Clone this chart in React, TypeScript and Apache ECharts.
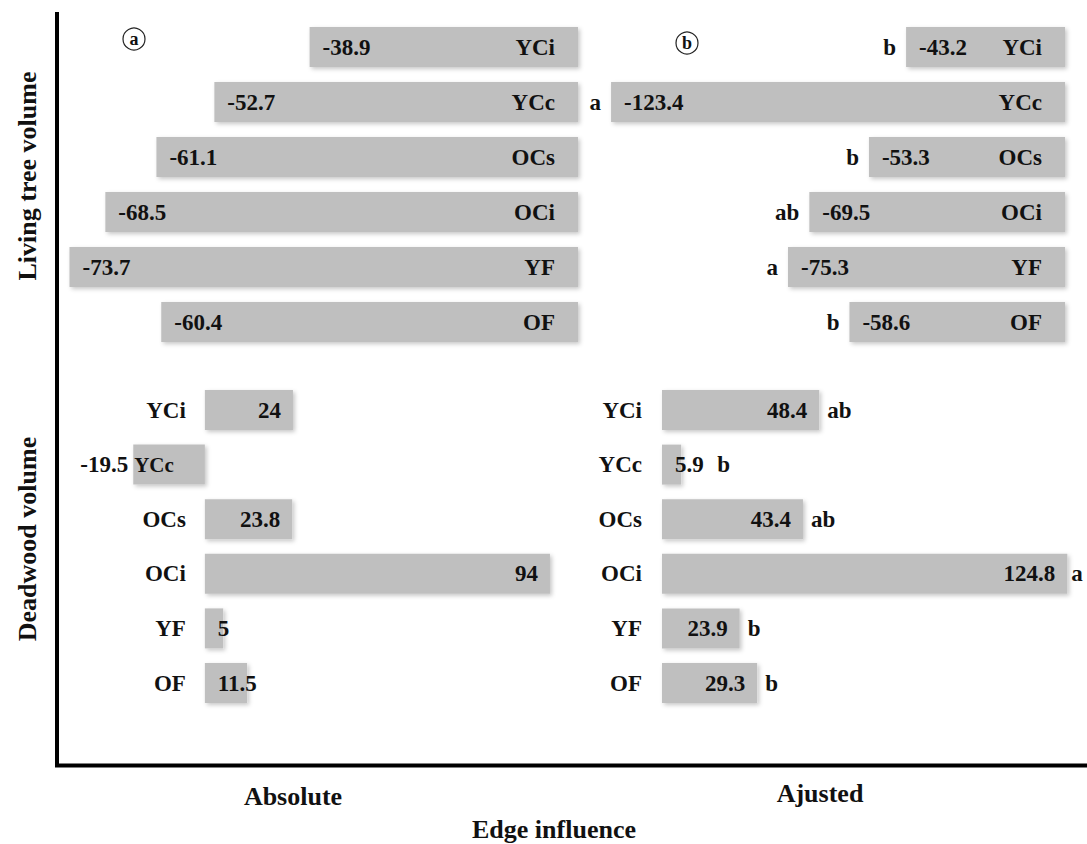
import React, { useEffect, useRef } from 'react';
import * as echarts from 'echarts';

const categories = ['YCi', 'YCc', 'OCs', 'OCi', 'YF', 'OF'];
const livingAbsolute = [-38.9, -52.7, -61.1, -68.5, -73.7, -60.4];
const livingAdjusted = [-43.2, -123.4, -53.3, -69.5, -75.3, -58.6];
const livingAdjustedLetters = ['b', 'a', 'b', 'ab', 'a', 'b'];
const deadAbsolute = [24, -19.5, 23.8, 94, 5, 11.5];
const deadAdjusted = [48.4, 5.9, 43.4, 124.8, 23.9, 29.3];
const deadAdjustedLetters = ['ab', 'b', 'ab', 'a', 'b', 'b'];
const panelTitles = ['Absolute', 'Ajusted'];
const rowTitles = ['Living tree volume', 'Deadwood volume'];
const axisTitle = 'Edge influence';
const panelTags = ['a', 'b'];

const FONT = '"Liberation Serif", "Times New Roman", serif';
const INK = '#111111';
const BAR = '#bfbfbf';

const lbl = { fontFamily: FONT, fontWeight: 'bold' as const, fontSize: 23, color: INK };

const barStyle = {
  color: BAR,
  shadowColor: 'rgba(0,0,0,0.22)',
  shadowBlur: 4,
  shadowOffsetX: 2,
  shadowOffsetY: 2,
};
const ghostStyle = { color: 'rgba(0,0,0,0)' };

function deadValueLabel(v: number) {
  if (v < 0) return { position: 'left', distance: 5 };
  if (v < 15) return { position: 'insideLeft', distance: 13 };
  return { position: 'insideRight', distance: 12 };
}

export default function App() {
  const ref = useRef<HTMLDivElement>(null);
  useEffect(() => {
    if (!ref.current) return;
    const chart = echarts.init(ref.current, undefined, { renderer: 'svg' });
    const grids = [
      { left: 26, top: 19.5, width: 552, height: 330 },
      { left: 550, top: 19.5, width: 515, height: 330 },
      { left: 58, top: 382.7, width: 514, height: 327.6 },
      { left: 662, top: 382.7, width: 406, height: 327.6 },
    ].map((g) => ({ ...g, outerBoundsMode: 'none', containLabel: false }));
    const xRanges = [
      [-80, 0],
      [-140, 0],
      [-40, 100],
      [0, 125],
    ];
    const xAxis = xRanges.map((r, i) => ({
      type: 'value',
      gridIndex: i,
      min: r[0],
      max: r[1],
      show: false,
    }));
    const baseY = {
      type: 'category',
      data: categories,
      inverse: true,
      axisTick: { show: false },
      splitLine: { show: false },
      z: 10,
    };
    const yAxis = [
      { ...baseY, gridIndex: 0, position: 'right', axisLine: { show: false, onZero: false }, axisLabel: { ...lbl, inside: true, margin: 23 } },
      { ...baseY, gridIndex: 1, position: 'right', axisLine: { show: false, onZero: false }, axisLabel: { ...lbl, inside: true, margin: 23 } },
      {
        ...baseY,
        gridIndex: 2,
        position: 'left',
        // move the category axis from the grid's left edge onto the value 0
        offset: -(40 / 140) * 514,
        axisLine: { show: false, onZero: false },
        axisLabel: {
          ...lbl,
          margin: 19,
          formatter: (v: string, i: number) => (deadAbsolute[i] < 0 ? `{n|${v}}` : `{p|${v}}`),
          rich: {
            n: { ...lbl, fontSize: 21, padding: [0, 12, 0, 0] },
            p: { ...lbl },
          },
        },
      },
      { ...baseY, gridIndex: 3, position: 'left', axisLine: { show: false, onZero: false }, axisLabel: { ...lbl, margin: 20 } },
    ];
    const series: any[] = [
      {
        type: 'bar', xAxisIndex: 0, yAxisIndex: 0, barWidth: 40,
        data: livingAbsolute, itemStyle: barStyle,
        label: { show: true, position: 'insideLeft', distance: 13, ...lbl },
      },
      {
        type: 'bar', xAxisIndex: 1, yAxisIndex: 1, barWidth: 40, barGap: '-100%',
        data: livingAdjusted, itemStyle: barStyle,
        label: { show: true, position: 'insideLeft', distance: 13, ...lbl },
      },
      {
        type: 'bar', xAxisIndex: 1, yAxisIndex: 1, barWidth: 40, barGap: '-100%', silent: true,
        data: livingAdjusted, itemStyle: ghostStyle,
        label: {
          show: true, position: 'left', distance: 10, ...lbl,
          formatter: (p: any) => livingAdjustedLetters[p.dataIndex],
        },
      },
      {
        type: 'bar', xAxisIndex: 2, yAxisIndex: 2, barWidth: 40,
        data: deadAbsolute.map((v) => ({ value: v, label: deadValueLabel(v) })),
        itemStyle: barStyle,
        label: { show: true, ...lbl },
      },
      {
        type: 'bar', xAxisIndex: 3, yAxisIndex: 3, barWidth: 40, barGap: '-100%',
        data: deadAdjusted.map((v) => ({ value: v, label: deadValueLabel(v) })),
        itemStyle: barStyle,
        label: { show: true, ...lbl },
      },
      {
        type: 'bar', xAxisIndex: 3, yAxisIndex: 3, barWidth: 40, barGap: '-100%', silent: true,
        data: deadAdjusted.map((v) => ({ value: v, label: { distance: v < 15 ? 36 : v > 100 ? 4 : 8 } })),
        itemStyle: ghostStyle,
        label: {
          show: true, position: 'right', ...lbl,
          formatter: (p: any) => deadAdjustedLetters[p.dataIndex],
        },
      },
    ];
    const titleFont = `bold 26px ${FONT}`;
    const textEl = (text: string, x: number, y: number, font: string, rotation = 0) => ({
      type: 'text',
      x,
      y,
      rotation,
      style: {
        text,
        font,
        fill: INK,
        align: 'center',
        verticalAlign: 'middle',
        textAlign: 'center',
        textVerticalAlign: 'middle',
      },
    });
    const tag = (t: string, x: number, y: number) => ({
      type: 'group',
      x,
      y,
      children: [
        { type: 'circle', shape: { cx: 0, cy: 0, r: 11 }, style: { fill: 'none', stroke: '#222', lineWidth: 1.2 } },
        textEl(t, 0, 0, `bold 18px ${FONT}`),
      ],
    });
    const graphic = [
      { type: 'line', shape: { x1: 57, y1: 12, x2: 57, y2: 767 }, style: { stroke: '#000', lineWidth: 4 } },
      { type: 'line', shape: { x1: 55, y1: 765.5, x2: 1087, y2: 765.5 }, style: { stroke: '#000', lineWidth: 4 } },
      textEl(rowTitles[0], 27, 176, titleFont, Math.PI / 2),
      textEl(rowTitles[1], 27, 539, titleFont, Math.PI / 2),
      textEl(panelTitles[0], 293, 796, titleFont),
      textEl(panelTitles[1], 820, 793, titleFont),
      textEl(axisTitle, 554, 829, titleFont),
      tag(panelTags[0], 134, 39),
      tag(panelTags[1], 687, 43),
    ];
    chart.setOption({
      animation: false,
      backgroundColor: '#ffffff',
      grid: grids,
      xAxis,
      yAxis,
      series,
      graphic,
    });
    return () => chart.dispose();
  }, []);
  return (
    <div
      ref={ref}
      style={{ position: 'absolute', left: 0, top: 0, width: 1087, height: 844 }}
    />
  );
}
